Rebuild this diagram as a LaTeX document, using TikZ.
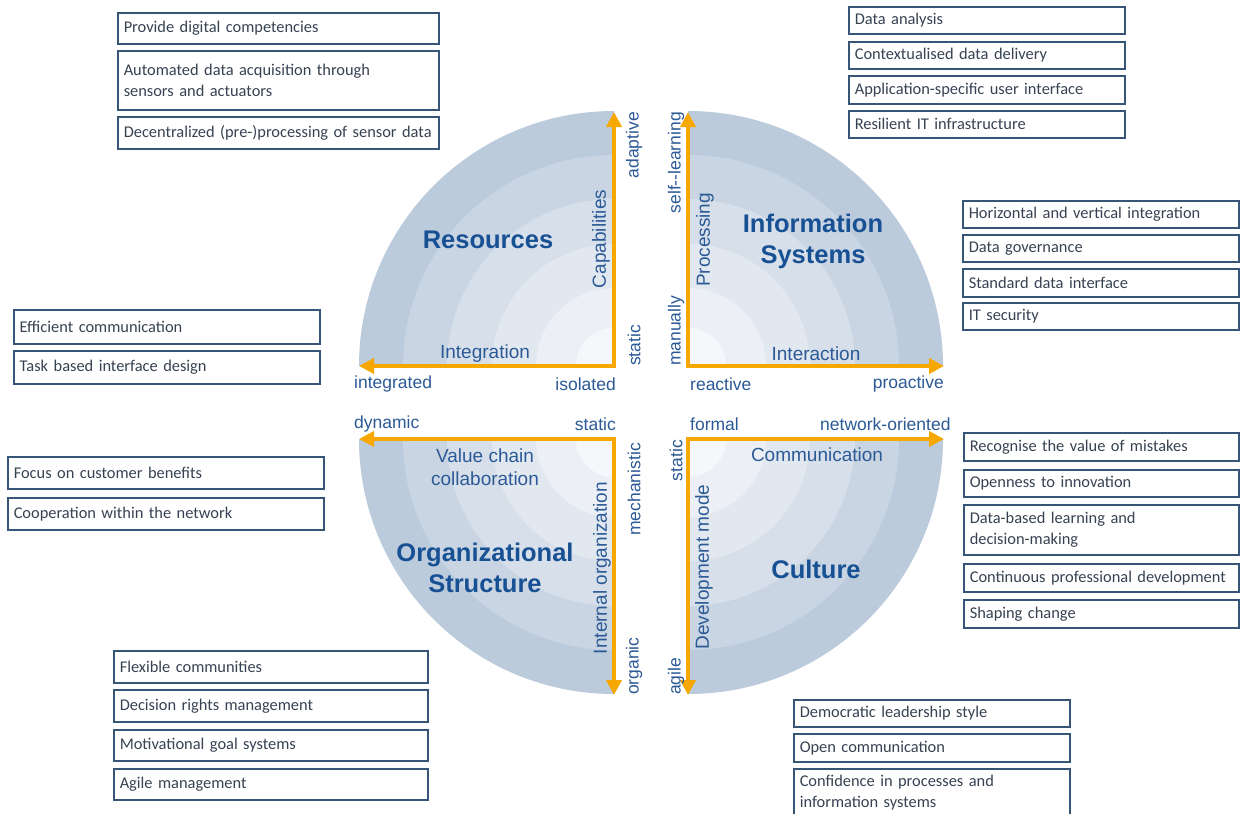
\documentclass[tikz,border=0pt]{standalone}
\usepackage{fontspec}
\setmainfont{Liberation Sans}
\newfontfamily\boxfont{Carlito}
\usetikzlibrary{arrows.meta}
\definecolor{ringa}{RGB}{188,203,220}
\definecolor{ringb}{RGB}{201,213,227}
\definecolor{ringc}{RGB}{214,223,234}
\definecolor{ringd}{RGB}{226,232,240}
\definecolor{ringe}{RGB}{236,240,246}
\definecolor{ringf}{RGB}{245,247,250}
\definecolor{arrc}{RGB}{247,168,0}
\definecolor{labc}{RGB}{44,90,150}
\definecolor{ttlc}{RGB}{24,80,148}
\definecolor{boxc}{RGB}{55,85,118}
\definecolor{boxtxt}{RGB}{55,66,82}
\newcommand\myquad[3]{%
  \foreach \r/\c in {255/ringa,211/ringb,167/ringc,122/ringd,78/ringe,38/ringf}{%
    \fill[\c] (#1,#2) -- ++(#3:\r) arc[start angle=#3, delta angle=90, radius=\r] -- cycle;
  }}
\tikzset{
  lab/.style={text=labc, font=\fontsize{17.5}{20}\selectfont, inner sep=0pt},
  axt/.style={text=labc, font=\fontsize{19}{23}\selectfont, inner sep=0pt, align=center},
  ttl/.style={text=ttlc, font=\fontsize{25.5}{31}\selectfont\bfseries, inner sep=0pt, align=center},
  axisarrow/.style={draw=arrc, line width=4.5pt, line join=miter,
    {Triangle[length=15pt,width=15pt]}-{Triangle[length=15pt,width=15pt]}},
  itembox/.style={draw=boxc, line width=1.5pt, fill=white, text=boxtxt,
    font=\boxfont\fontsize{16.4}{21}\selectfont, align=left, anchor=north west,
    inner xsep=6pt, inner ysep=0pt},
}
\begin{document}
\begin{tikzpicture}[x=1pt,y=-1pt]
\useasboundingbox (0,0) rectangle (1240,814);
\clip (0,0) rectangle (1240,814);
\fill[white] (0,0) rectangle (1240,814);

% quadrants
\myquad{614}{366}{180}
\myquad{688}{366}{270}
\myquad{688}{439}{0}
\myquad{614}{439}{90}

% axis coordinates
\coordinate (tlT) at (614,112);
\coordinate (tlC) at (614,366);
\coordinate (tlL) at (359,366);
\coordinate (trT) at (688,112);
\coordinate (trC) at (688,366);
\coordinate (trR) at (944,366);
\coordinate (blL) at (359,439);
\coordinate (blC) at (614,439);
\coordinate (blB) at (614,695);
\coordinate (brR) at (944,439);
\coordinate (brC) at (688,439);
\coordinate (brB) at (688,695);

\draw[axisarrow] (tlT) -- (tlC) -- (tlL);
\draw[axisarrow] (trT) -- (trC) -- (trR);
\draw[axisarrow] (blL) -- (blC) -- (blB);
\draw[axisarrow] (brR) -- (brC) -- (brB);

% titles
\node[ttl] (tRes) at (488,240) {Resources};
\node[ttl] (tInf) at (813,241) {Information\\Systems};
\node[ttl] (tOrg) at (485,568) {Organizational\\Structure};
\node[ttl] (tCul) at (816,569) {Culture};

% top-left labels
\node[axt, rotate=90] (aCap) at (601,239) {Capabilities};
\node[lab, rotate=90, anchor=east] (lAdapt) at (634,112) {adaptive};
\node[lab, rotate=90, anchor=west] (lStat1) at (634,366) {static};
\node[axt] (aInt) at (485,354) {Integration};
\node[lab, anchor=west] (lIntd) at (354,384) {integrated};
\node[lab, anchor=east] (lIso) at (616,384) {isolated};

% top-right labels
\node[lab, rotate=90, anchor=east] (lSelf) at (676,112) {self-{}-learning};
\node[lab, rotate=90, anchor=west] (lMan) at (676,366) {manually};
\node[axt, rotate=90] (aProc) at (705,240) {Processing};
\node[axt] (aInter) at (816,354) {Interaction};
\node[lab, anchor=west] (lReac) at (690,384) {reactive};
\node[lab, anchor=east] (lProa) at (944,384) {proactive};

% bottom-left labels
\node[lab, anchor=west] (lDyn) at (354,424) {dynamic};
\node[lab, anchor=east] (lStat2) at (616,424) {static};
\node[axt, align=center] (aVal) at (485,467) {Value chain\\collaboration};
\node[axt, rotate=90] (aIntOrg) at (602,568) {Internal organization};
\node[lab, rotate=90, anchor=east] (lMech) at (634,443) {mechanistic};
\node[lab, rotate=90, anchor=west] (lOrg) at (634,695) {organic};

% bottom-right labels
\node[lab, anchor=west] (lForm) at (690,424) {formal};
\node[lab, anchor=west] (lNet) at (820,424) {network-oriented};
\node[axt] (aComm) at (817,455) {Communication};
\node[lab, rotate=90, anchor=east] (lStat3) at (676,440) {static};
\node[lab, rotate=90, anchor=west] (lAgile) at (676,695) {agile};
\node[axt, rotate=90] (aDev) at (704,567) {Development mode};

% boxes: top-left
\node[itembox, text width=309pt, minimum height=31pt] (b1) at (117,12) {Provide digital competencies};
\node[itembox, text width=309pt, minimum height=59pt] (b2) at (117,50) {Automated data acquisition through\\sensors and actuators};
\node[itembox, text width=309pt, minimum height=32pt] (b3) at (117,116) {Decentralized (pre-)processing of sensor data};

% boxes: top-right 1
\node[itembox, text width=264pt, minimum height=27pt] (c1) at (848,6) {Data analysis};
\node[itembox, text width=264pt, minimum height=27pt] (c2) at (848,41) {Contextualised data delivery};
\node[itembox, text width=264pt, minimum height=28pt] (c3) at (848,75) {Application-specific user interface};
\node[itembox, text width=264pt, minimum height=27pt] (c4) at (848,110) {Resilient IT infrastructure};

% boxes: top-right 2
\node[itembox, text width=264pt, minimum height=27pt] (d1) at (962,200) {Horizontal and vertical integration};
\node[itembox, text width=264pt, minimum height=27pt] (d2) at (962,234) {Data governance};
\node[itembox, text width=264pt, minimum height=28pt] (d3) at (962,268) {Standard data interface};
\node[itembox, text width=264pt, minimum height=27pt] (d4) at (962,302) {IT security};

% boxes: left
\node[itembox, text width=294pt, minimum height=34pt] (e1) at (13,309) {Efficient communication};
\node[itembox, text width=294pt, minimum height=33pt] (e2) at (13,350) {Task based interface design};
\node[itembox, text width=304pt, minimum height=32pt] (f1) at (7,456) {Focus on customer benefits};
\node[itembox, text width=304pt, minimum height=32pt] (f2) at (7,497) {Cooperation within the network};

% boxes: right
\node[itembox, text width=263pt, minimum height=28pt] (g1) at (963,432) {Recognise the value of mistakes};
\node[itembox, text width=263pt, minimum height=27pt] (g2) at (963,469) {Openness to innovation};
\node[itembox, text width=263pt, minimum height=50pt] (g3) at (963,504) {Data-based learning and\\decision-making};
\node[itembox, text width=263pt, minimum height=28pt] (g4) at (963,563) {Continuous professional development};
\node[itembox, text width=263pt, minimum height=28pt] (g5) at (963,599) {Shaping change};

% boxes: bottom-left
\node[itembox, text width=302pt, minimum height=32pt] (h1) at (113,650) {Flexible communities};
\node[itembox, text width=302pt, minimum height=32pt] (h2) at (113,689) {Decision rights management};
\node[itembox, text width=302pt, minimum height=31pt] (h3) at (113,729) {Motivational goal systems};
\node[itembox, text width=302pt, minimum height=31pt] (h4) at (113,768) {Agile management};

% boxes: bottom-right
\node[itembox, text width=264pt, minimum height=27pt] (k1) at (793,699) {Democratic leadership style};
\node[itembox, text width=264pt, minimum height=28pt] (k2) at (793,733) {Open communication};
\node[itembox, text width=264pt, minimum height=48pt] (k3) at (793,768) {Confidence in processes and\\information systems};
\end{tikzpicture}
\end{document}
